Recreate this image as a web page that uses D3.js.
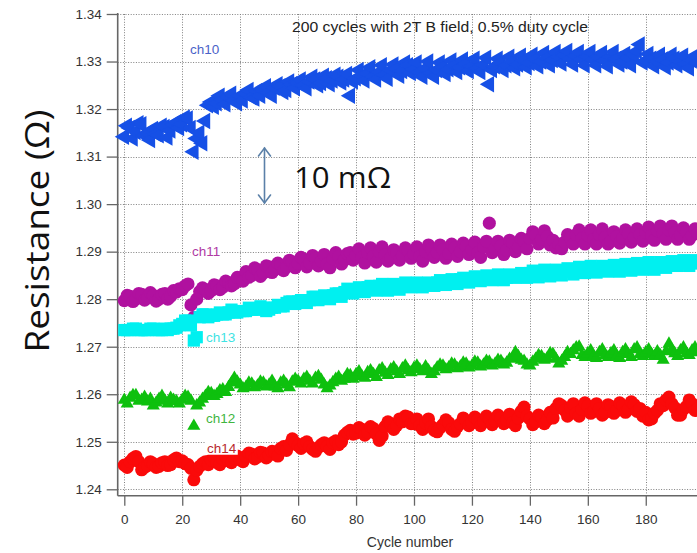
<!DOCTYPE html>
<html>
<head>
<meta charset="utf-8">
<script src="https://cdn.jsdelivr.net/npm/d3@7"></script>
<style>
  html, body { margin: 0; padding: 0; background: #fff; }
  svg { display: block; }
</style>
</head>
<body>
<svg id="chart" width="697" height="553"></svg>
<script>
// Cycle numbers 0..198 and measured resistance per channel, in ohms (one value per cycle)
const cycles = d3.range(0, 199);

const ch10 = [
  1.3142,1.3165,1.3160,1.3138,1.3152,1.3170,1.3168,1.3145,1.3150,1.3135,
  1.3158,1.3148,1.3145,1.3165,1.3162,1.3140,1.3155,1.3168,1.3172,1.3160,
  1.3168,1.3182,1.3180,1.3160,1.3110,1.3138,1.3150,1.3128,1.3175,1.3208,
  1.3215,1.3205,1.3212,1.3228,1.3220,1.3210,1.3225,1.3232,1.3218,1.3212,
  1.3228,1.3218,1.3232,1.3240,1.3225,1.3222,1.3238,1.3228,1.3240,1.3248,
  1.3235,1.3228,1.3245,1.3252,1.3248,1.3236,1.3240,1.3258,1.3252,1.3244,
  1.3255,1.3262,1.3250,1.3244,1.3258,1.3268,1.3262,1.3250,1.3255,1.3270,
  1.3265,1.3252,1.3260,1.3272,1.3268,1.3256,1.3262,1.3274,1.3228,1.3258,
  1.3265,1.3282,1.3270,1.3260,1.3275,1.3288,1.3268,1.3262,1.3278,1.3292,
  1.3272,1.3264,1.3282,1.3294,1.3285,1.3270,1.3280,1.3298,1.3292,1.3276,
  1.3284,1.3298,1.3278,1.3268,1.3286,1.3300,1.3276,1.3268,1.3282,1.3298,
  1.3288,1.3274,1.3284,1.3302,1.3292,1.3278,1.3288,1.3304,1.3295,1.3280,
  1.3290,1.3306,1.3286,1.3278,1.3294,1.3308,1.3252,1.3282,1.3290,1.3306,
  1.3298,1.3282,1.3292,1.3310,1.3300,1.3286,1.3294,1.3312,1.3302,1.3288,
  1.3297,1.3314,1.3305,1.3290,1.3300,1.3318,1.3308,1.3292,1.3303,1.3320,
  1.3310,1.3296,1.3313,1.3322,1.3306,1.3294,1.3312,1.3320,1.3305,1.3292,
  1.3310,1.3320,1.3304,1.3292,1.3308,1.3318,1.3302,1.3290,1.3310,1.3320,
  1.3306,1.3294,1.3300,1.3316,1.3308,1.3292,1.3314,1.3322,1.3336,1.3298,
  1.3302,1.3316,1.3306,1.3290,1.3300,1.3314,1.3304,1.3288,1.3298,1.3314,
  1.3306,1.3292,1.3300,1.3312,1.3296,1.3286,1.3302,1.3312,1.3298];

const ch11 = [
  1.2797,1.2808,1.2806,1.2795,1.2800,1.2812,1.2810,1.2798,1.2803,1.2814,
  1.2808,1.2796,1.2800,1.2810,1.2812,1.2800,1.2806,1.2818,1.2815,1.2822,
  1.2820,1.2828,1.2832,1.2788,1.2762,1.2800,1.2816,1.2824,1.2820,1.2812,
  1.2818,1.2830,1.2828,1.2820,1.2825,1.2838,1.2835,1.2828,1.2832,1.2846,
  1.2845,1.2838,1.2858,1.2846,1.2850,1.2866,1.2862,1.2848,1.2855,1.2870,
  1.2868,1.2856,1.2862,1.2876,1.2872,1.2860,1.2868,1.2882,1.2878,1.2866,
  1.2875,1.2888,1.2884,1.2868,1.2876,1.2892,1.2886,1.2870,1.2880,1.2894,
  1.2874,1.2866,1.2885,1.2898,1.2890,1.2874,1.2882,1.2896,1.2898,1.2882,
  1.2892,1.2906,1.2888,1.2876,1.2898,1.2908,1.2890,1.2878,1.2900,1.2910,
  1.2893,1.2880,1.2887,1.2904,1.2898,1.2882,1.2892,1.2908,1.2902,1.2886,
  1.2895,1.2910,1.2890,1.2880,1.2900,1.2914,1.2906,1.2888,1.2898,1.2914,
  1.2904,1.2886,1.2896,1.2916,1.2908,1.2890,1.2900,1.2918,1.2912,1.2894,
  1.2905,1.2920,1.2898,1.2888,1.2910,1.2922,1.2960,1.2898,1.2906,1.2922,
  1.2912,1.2894,1.2903,1.2924,1.2918,1.2900,1.2910,1.2928,1.2922,1.2906,
  1.2928,1.2942,1.2935,1.2916,1.2926,1.2944,1.2932,1.2914,1.2924,1.2908,
  1.2916,1.2906,1.2920,1.2936,1.2930,1.2916,1.2936,1.2946,1.2928,1.2916,
  1.2934,1.2946,1.2926,1.2916,1.2936,1.2948,1.2930,1.2916,1.2922,1.2942,
  1.2932,1.2918,1.2928,1.2946,1.2938,1.2920,1.2930,1.2948,1.2936,1.2922,
  1.2940,1.2952,1.2934,1.2924,1.2944,1.2954,1.2938,1.2926,1.2946,1.2954,
  1.2940,1.2926,1.2935,1.2950,1.2942,1.2926,1.2934,1.2948,1.2938];

const ch13 = [
  1.2735,1.2735,1.2735,1.2738,1.2738,1.2735,1.2735,1.2735,1.2735,1.2738,
  1.2738,1.2735,1.2735,1.2735,1.2738,1.2735,1.2738,1.2738,1.2740,1.2745,
  1.2748,1.2755,1.2755,1.2745,1.2713,1.2720,1.2762,1.2768,1.2768,1.2762,
  1.2765,1.2765,1.2768,1.2772,1.2768,1.2768,1.2772,1.2778,1.2772,1.2772,
  1.2775,1.2775,1.2775,1.2782,1.2778,1.2778,1.2778,1.2785,1.2782,1.2775,
  1.2778,1.2782,1.2782,1.2788,1.2785,1.2785,1.2792,1.2795,1.2795,1.2790,
  1.2795,1.2798,1.2798,1.2792,1.2798,1.2805,1.2805,1.2798,1.2802,1.2808,
  1.2805,1.2800,1.2808,1.2812,1.2812,1.2805,1.2815,1.2822,1.2818,1.2812,
  1.2818,1.2825,1.2822,1.2815,1.2825,1.2828,1.2822,1.2818,1.2828,1.2832,
  1.2825,1.2818,1.2828,1.2832,1.2825,1.2820,1.2828,1.2835,1.2832,1.2825,
  1.2828,1.2835,1.2832,1.2825,1.2828,1.2835,1.2832,1.2828,1.2835,1.2840,
  1.2838,1.2830,1.2835,1.2842,1.2838,1.2832,1.2842,1.2845,1.2838,1.2835,
  1.2842,1.2848,1.2845,1.2838,1.2842,1.2850,1.2848,1.2840,1.2845,1.2852,
  1.2848,1.2840,1.2845,1.2852,1.2850,1.2845,1.2848,1.2855,1.2852,1.2845,
  1.2855,1.2860,1.2852,1.2846,1.2858,1.2862,1.2855,1.2848,1.2858,1.2862,
  1.2855,1.2850,1.2860,1.2865,1.2858,1.2852,1.2862,1.2868,1.2860,1.2855,
  1.2865,1.2870,1.2862,1.2856,1.2865,1.2870,1.2862,1.2858,1.2868,1.2872,
  1.2865,1.2858,1.2868,1.2874,1.2865,1.2860,1.2870,1.2876,1.2868,1.2862,
  1.2872,1.2878,1.2868,1.2862,1.2872,1.2878,1.2875,1.2866,1.2872,1.2880,
  1.2878,1.2870,1.2875,1.2882,1.2878,1.2870,1.2875,1.2882,1.2880];

const ch12 = [
  1.2588,1.2580,1.2592,1.2598,1.2598,1.2586,1.2588,1.2594,1.2584,1.2590,
  1.2576,1.2582,1.2590,1.2596,1.2586,1.2580,1.2592,1.2588,1.2585,1.2580,
  1.2588,1.2596,1.2594,1.2586,1.2533,1.2576,1.2582,1.2590,1.2596,1.2604,
  1.2602,1.2596,1.2600,1.2608,1.2610,1.2604,1.2615,1.2624,1.2634,1.2626,
  1.2620,1.2612,1.2615,1.2624,1.2622,1.2614,1.2618,1.2626,1.2624,1.2616,
  1.2620,1.2628,1.2616,1.2612,1.2624,1.2628,1.2620,1.2614,1.2626,1.2632,
  1.2628,1.2622,1.2632,1.2636,1.2628,1.2622,1.2634,1.2638,1.2630,1.2620,
  1.2612,1.2618,1.2625,1.2632,1.2636,1.2628,1.2632,1.2642,1.2640,1.2632,
  1.2642,1.2648,1.2638,1.2634,1.2646,1.2650,1.2642,1.2636,1.2650,1.2654,
  1.2645,1.2640,1.2652,1.2656,1.2648,1.2642,1.2654,1.2660,1.2650,1.2646,
  1.2655,1.2660,1.2652,1.2648,1.2658,1.2650,1.2642,1.2648,1.2656,1.2662,
  1.2660,1.2652,1.2656,1.2664,1.2662,1.2654,1.2658,1.2666,1.2664,1.2656,
  1.2660,1.2668,1.2666,1.2658,1.2662,1.2670,1.2668,1.2660,1.2664,1.2672,
  1.2670,1.2662,1.2666,1.2674,1.2676,1.2688,1.2680,1.2672,1.2670,1.2662,
  1.2660,1.2668,1.2674,1.2682,1.2680,1.2672,1.2676,1.2686,1.2684,1.2674,
  1.2664,1.2670,1.2678,1.2688,1.2684,1.2692,1.2698,1.2700,1.2682,1.2678,
  1.2686,1.2692,1.2680,1.2676,1.2688,1.2694,1.2682,1.2678,1.2686,1.2692,
  1.2680,1.2676,1.2688,1.2694,1.2684,1.2678,1.2694,1.2698,1.2684,1.2680,
  1.2688,1.2694,1.2684,1.2680,1.2690,1.2682,1.2672,1.2690,1.2706,1.2694,
  1.2686,1.2680,1.2692,1.2698,1.2686,1.2682,1.2692,1.2698,1.2688];

const ch14 = [
  1.2451,1.2446,1.2458,1.2465,1.2469,1.2458,1.2441,1.2446,1.2450,1.2458,
  1.2454,1.2446,1.2448,1.2456,1.2458,1.2450,1.2452,1.2462,1.2466,1.2458,
  1.2460,1.2454,1.2452,1.2444,1.2420,1.2440,1.2448,1.2454,1.2458,1.2452,
  1.2462,1.2468,1.2456,1.2452,1.2464,1.2470,1.2460,1.2456,1.2466,1.2470,
  1.2462,1.2458,1.2470,1.2476,1.2474,1.2464,1.2468,1.2478,1.2476,1.2466,
  1.2472,1.2480,1.2478,1.2470,1.2486,1.2490,1.2482,1.2494,1.2506,1.2498,
  1.2492,1.2486,1.2496,1.2500,1.2490,1.2484,1.2480,1.2488,1.2494,1.2498,
  1.2490,1.2484,1.2498,1.2502,1.2494,1.2500,1.2514,1.2520,1.2524,1.2516,
  1.2518,1.2530,1.2526,1.2514,1.2520,1.2532,1.2528,1.2516,1.2503,1.2512,
  1.2532,1.2542,1.2538,1.2526,1.2534,1.2548,1.2542,1.2554,1.2552,1.2538,
  1.2538,1.2548,1.2534,1.2526,1.2540,1.2548,1.2532,1.2524,1.2521,1.2530,
  1.2536,1.2546,1.2540,1.2526,1.2522,1.2532,1.2538,1.2550,1.2544,1.2534,
  1.2540,1.2552,1.2546,1.2534,1.2542,1.2554,1.2548,1.2536,1.2544,1.2556,
  1.2550,1.2538,1.2546,1.2558,1.2540,1.2534,1.2550,1.2564,1.2573,1.2554,
  1.2548,1.2536,1.2542,1.2556,1.2552,1.2538,1.2546,1.2562,1.2550,1.2570,
  1.2580,1.2576,1.2566,1.2554,1.2572,1.2580,1.2560,1.2554,1.2568,1.2582,
  1.2575,1.2560,1.2564,1.2580,1.2570,1.2556,1.2562,1.2578,1.2574,1.2560,
  1.2566,1.2582,1.2576,1.2562,1.2568,1.2584,1.2578,1.2564,1.2570,1.2554,
  1.2562,1.2546,1.2548,1.2560,1.2566,1.2580,1.2576,1.2588,1.2594,1.2580,
  1.2572,1.2556,1.2556,1.2568,1.2574,1.2588,1.2580,1.2566,1.2570];

// Axis ticks
const yTicks = [1.24,1.25,1.26,1.27,1.28,1.29,1.30,1.31,1.32,1.33,1.34];
const xTicks = [0,20,40,60,80,100,120,140,160,180];

const svg = d3.select("#chart");
const W = 697, H = 553;
const axisX = 117.7, axisY = 495.7;

const x = d3.scaleLinear().domain([0, 200]).range([124.3, 703.7]);
const y = d3.scaleLinear().domain([1.24, 1.34]).range([489.3, 14]);

svg.append("rect").attr("width", W).attr("height", H).attr("fill", "#fff");

// Dotted grid
const grid = svg.append("g").attr("stroke", "#808080").attr("stroke-width", 1)
  .attr("stroke-dasharray", "1,1.6").attr("fill", "none");
grid.selectAll("line.h").data(yTicks).join("line")
  .attr("x1", axisX).attr("x2", W)
  .attr("y1", d => Math.round(y(d)) + 0.5).attr("y2", d => Math.round(y(d)) + 0.5);
grid.selectAll("line.v").data(xTicks).join("line")
  .attr("y1", y(1.34)).attr("y2", axisY)
  .attr("x1", d => Math.round(x(d)) + 0.5).attr("x2", d => Math.round(x(d)) + 0.5);

// Axes
const fmt = d3.format(".2f");
const yAxis = svg.append("g").attr("transform", `translate(${axisX},0)`)
  .call(d3.axisLeft(y).tickValues(yTicks).tickFormat(fmt).tickSize(11).tickPadding(5));
const xAxis = svg.append("g").attr("transform", `translate(0,${axisY})`)
  .call(d3.axisBottom(x).tickValues(xTicks).tickFormat(d3.format("d")).tickSize(10).tickPadding(9));
[yAxis, xAxis].forEach(g => {
  g.select(".domain").remove();
  g.selectAll(".tick line").attr("stroke", "#666").attr("stroke-width", 1.3);
  g.selectAll(".tick text").attr("fill", "#333")
    .style("font-family", "'Liberation Sans', Arial, sans-serif").style("font-size", "13.5px");
});
svg.append("line").attr("x1", axisX).attr("x2", axisX).attr("y1", 13).attr("y2", axisY)
  .attr("stroke", "#666").attr("stroke-width", 1.6);
svg.append("line").attr("x1", axisX).attr("x2", W).attr("y1", axisY).attr("y2", axisY)
  .attr("stroke", "#666").attr("stroke-width", 1.6);

// Series markers
const series = [
  { name: "ch10", values: ch10, color: "#1650e6", shape: d3.symbolTriangle, size: 118, rotate: -90 },
  { name: "ch11", values: ch11, color: "#b0119f", shape: d3.symbolCircle, size: 135, rotate: 0 },
  { name: "ch13", values: ch13, color: "#00f0f0", shape: d3.symbolSquare, size: 150, rotate: 0 },
  { name: "ch12", values: ch12, color: "#0ec00e", shape: d3.symbolTriangle, size: 74, rotate: 0 },
  { name: "ch14", values: ch14, color: "#fa0a0a", shape: d3.symbolCircle, size: 135, rotate: 0 }
];
const plot = svg.append("g");
series.forEach(s => {
  const sym = d3.symbol().type(s.shape).size(s.size);
  plot.append("g").selectAll("path")
    .data(cycles.map((c, i) => [c, s.values[i]]))
    .join("path")
    .attr("d", sym)
    .attr("fill", s.color)
    .attr("transform", d => `translate(${x(d[0])},${y(d[1])}) rotate(${s.rotate})`);
});

// Channel labels
const labels = [
  { text: "ch10", cx: 190, cy: 49, color: "#4a62c8" },
  { text: "ch11", cx: 192, cy: 251, color: "#b03aa4" },
  { text: "ch13", cx: 206, cy: 337, color: "#3fe3e3" },
  { text: "ch12", cx: 206, cy: 418, color: "#3fb53f" },
  { text: "ch14", cx: 207, cy: 448, color: "#b8282e" }
];
labels.forEach(l => {
  const g = svg.append("g");
  const t = g.append("text").attr("x", l.cx).attr("y", l.cy).attr("dy", "0.35em")
    .attr("fill", l.color)
    .style("font-family", "'Liberation Sans', Arial, sans-serif").style("font-size", "13.5px")
    .text(l.text);
  const b = t.node().getBBox();
  g.insert("rect", "text").attr("x", b.x - 1).attr("y", b.y + 1).attr("width", b.width + 2)
    .attr("height", b.height - 2).attr("fill", "#fff");
});

// Title
svg.append("text").attr("x", 292).attr("y", 32)
  .attr("fill", "#222")
  .attr("textLength", 296).attr("lengthAdjust", "spacingAndGlyphs")
  .style("font-family", "'Liberation Sans', Arial, sans-serif").style("font-size", "14.5px")
  .text("200 cycles with 2T B field, 0.5% duty cycle");

// Axis titles
svg.append("text").attr("x", x(100) - 4).attr("y", 547)
  .attr("text-anchor", "middle").attr("fill", "#333")
  .style("font-family", "'Liberation Sans', Arial, sans-serif").style("font-size", "14px")
  .text("Cycle number");
svg.append("text")
  .attr("transform", "translate(49,231) rotate(-90)")
  .attr("text-anchor", "middle").attr("fill", "#111")
  .attr("textLength", 243).attr("lengthAdjust", "spacingAndGlyphs")
  .style("font-family", "'Open Sans', 'Noto Sans', sans-serif").style("font-size", "33px")
  .text("Resistance (Ω)");

// 10 mΩ scale marker
const arrowColor = "#5b80a8";
const ax = 264.5, ayTop = 148, ayBot = 203;
const arr = svg.append("g").attr("stroke", arrowColor).attr("stroke-width", 1.6).attr("fill", "none")
  .attr("stroke-linecap", "round");
arr.append("line").attr("x1", ax).attr("x2", ax).attr("y1", ayTop).attr("y2", ayBot);
arr.append("path").attr("d", `M${ax - 6},${ayTop + 8} L${ax},${ayTop} L${ax + 6},${ayTop + 8}`);
arr.append("path").attr("d", `M${ax - 6},${ayBot - 8} L${ax},${ayBot} L${ax + 6},${ayBot - 8}`);
svg.append("text").attr("x", 294).attr("y", 188)
  .attr("fill", "#111")
  .attr("textLength", 97).attr("lengthAdjust", "spacingAndGlyphs")
  .style("font-family", "'Open Sans', 'Noto Sans', sans-serif").style("font-size", "30px")
  .text("10 mΩ");
</script>
</body>
</html>
